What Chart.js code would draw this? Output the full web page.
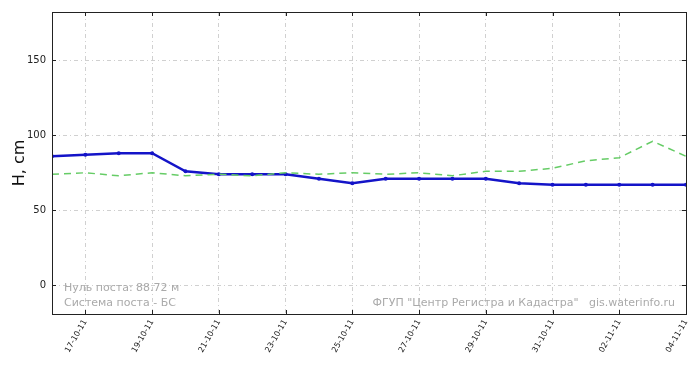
<!DOCTYPE html>
<html>
<head>
<meta charset="utf-8">
<script src="https://cdn.jsdelivr.net/npm/chart.js@4/dist/chart.umd.min.js"></script>
<style>
  html, body { margin: 0; padding: 0; background: #fff; }
  #wrap { width: 700px; height: 370px; position: relative; }
</style>
</head>
<body>
<div id="wrap"><canvas id="chart"></canvas></div>
<script>
// days 16-10-11 .. 04-11-11
const dates = ['16-10-11','17-10-11','18-10-11','19-10-11','20-10-11','21-10-11','22-10-11',
  '23-10-11','24-10-11','25-10-11','26-10-11','27-10-11','28-10-11','29-10-11','30-10-11',
  '31-10-11','01-11-11','02-11-11','03-11-11','04-11-11'];
const level = [86,87,88,88,76,74,74,74,71,68,71,71,71,71,68,67,67,67,67,67];
const norm  = [74,75,73,75,73,74,73,75,74,75,74,75,73,76,76,78,83,85,96,86];
const yTicks = [0,50,100,150];
const xTickIdx = [1,3,5,7,9,11,13,15,17,19];

const pts = arr => arr.map((v, i) => ({x: i, y: v}));

const frame = {
  id: 'frame',
  afterDraw(chart) {
    const {ctx, chartArea: a, scales} = chart;
    ctx.save();
    ctx.strokeStyle = '#222';
    ctx.lineWidth = 1;
    ctx.strokeRect(a.left + 0.5, a.top + 0.5, a.right - a.left, a.bottom - a.top);
    ctx.beginPath();
    xTickIdx.forEach(i => {
      const x = Math.round(scales.x.getPixelForValue(i)) + 0.5;
      ctx.moveTo(x, a.bottom); ctx.lineTo(x, a.bottom - 4);
      ctx.moveTo(x, a.top); ctx.lineTo(x, a.top + 4);
    });
    yTicks.forEach(v => {
      const y = Math.round(scales.y.getPixelForValue(v)) + 0.5;
      ctx.moveTo(a.left, y); ctx.lineTo(a.left + 4, y);
      ctx.moveTo(a.right, y); ctx.lineTo(a.right - 4, y);
    });
    ctx.stroke();

    ctx.fillStyle = '#aaaaaa';
    ctx.font = '11px "DejaVu Sans"';
    ctx.textBaseline = 'middle';
    ctx.textAlign = 'left';
    ctx.fillText('Нуль поста: 88.72 м', 64, 288);
    ctx.fillText('Система поста - БС', 64, 303);
    ctx.textAlign = 'right';
    ctx.fillText('ФГУП "Центр Регистра и Кадастра"   gis.waterinfo.ru', 675, 303);
    ctx.restore();
  }
};

new Chart(document.getElementById('chart'), {
  type: 'line',
  data: {
    datasets: [{
      data: pts(norm),
      borderColor: '#66cc66',
      borderWidth: 1.5,
      borderDash: [7, 5],
      pointRadius: 0,
      tension: 0
    }, {
      data: pts(level),
      borderColor: '#1414c8',
      borderWidth: 2.5,
      pointRadius: 2,
      pointBackgroundColor: '#1414c8',
      pointBorderWidth: 0,
      tension: 0
    }]
  },
  options: {
    responsive: true,
    maintainAspectRatio: false,
    animation: false,
    layout: { padding: { top: 12, right: 14, left: 0, bottom: 0 } },
    plugins: { legend: { display: false }, tooltip: { enabled: false } },
    scales: {
      x: {
        type: 'linear',
        min: 0,
        max: 19,
        afterBuildTicks: s => { s.ticks = xTickIdx.map(v => ({value: v})); },
        afterFit: s => { s.height = 56; },
        grid: { color: '#d0d0d0', drawTicks: false },
        border: { display: false, dash: [4, 3, 1, 3] },
        ticks: {
          autoSkip: false,
          maxRotation: 60,
          minRotation: 60,
          padding: 4,
          color: '#222',
          font: { family: 'DejaVu Sans', size: 8 },
          callback: v => dates[v]
        }
      },
      y: {
        min: -19,
        max: 182,
        afterBuildTicks: s => { s.ticks = yTicks.map(v => ({value: v})); },
        afterFit: s => { s.width = 52; },
        grid: { color: '#d0d0d0', drawTicks: false },
        border: { display: false, dash: [4, 3, 1, 3] },
        title: {
          display: true,
          text: 'H, cm',
          color: '#111',
          font: { family: 'DejaVu Sans', size: 16 },
          padding: { top: 10, bottom: 0 }
        },
        ticks: {
          padding: 6,
          color: '#222',
          font: { family: 'DejaVu Sans', size: 10 }
        }
      }
    }
  },
  plugins: [frame]
});
</script>
</body>
</html>
